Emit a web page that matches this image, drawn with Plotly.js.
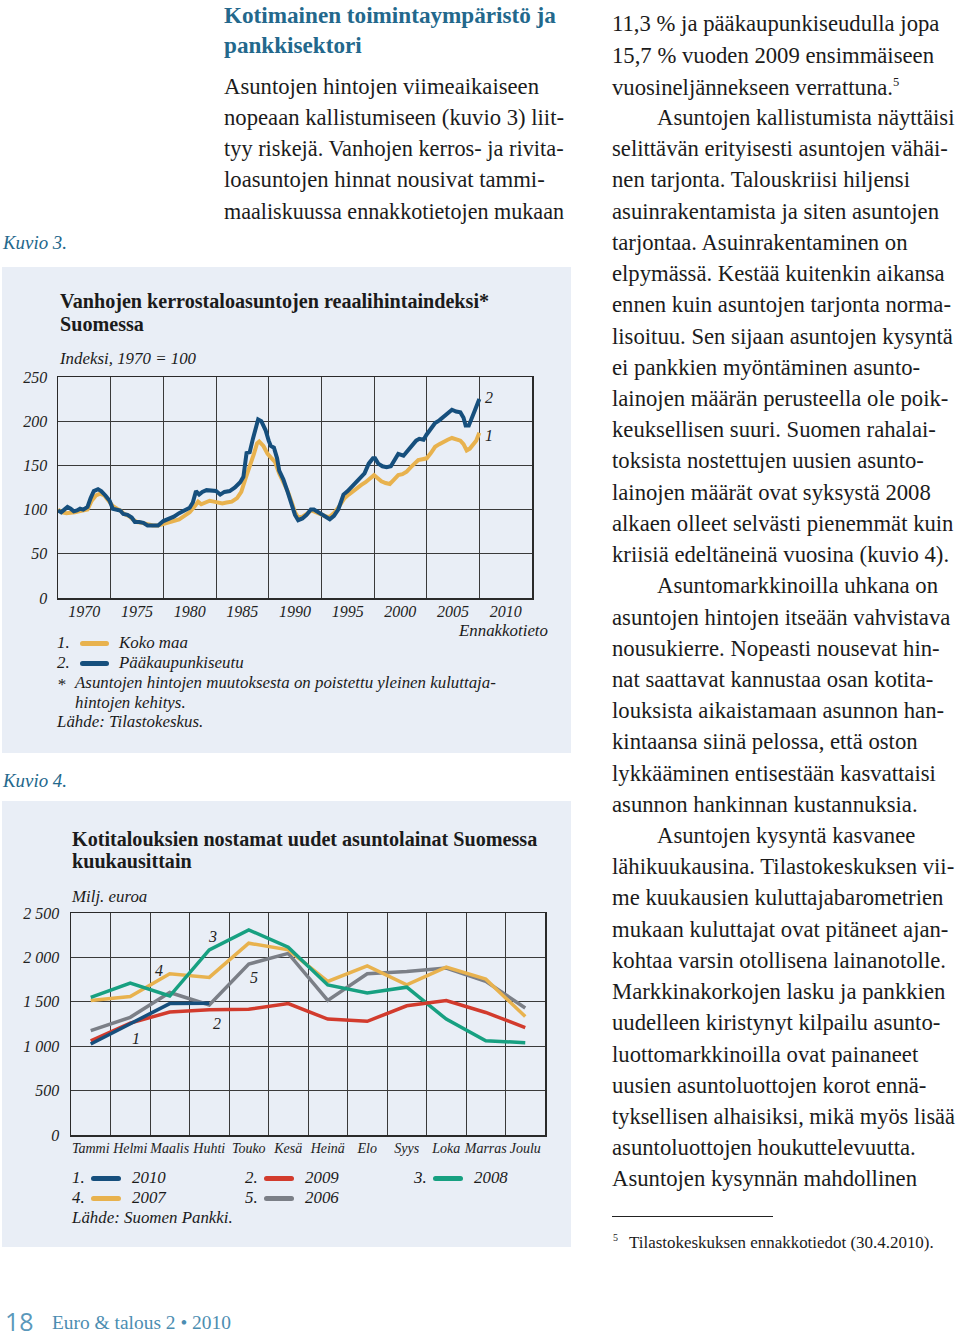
<!DOCTYPE html>
<html><head><meta charset="utf-8">
<script src="https://cdn.plot.ly/plotly-3.0.1.min.js"></script>
<style>
html,body{margin:0;padding:0;background:#fff;}
#page{position:relative;width:960px;height:1337px;overflow:hidden;background:#fff;font-family:'Liberation Serif',serif;color:#1b1b1b;}
.ln{position:absolute;white-space:nowrap;line-height:1;transform-origin:0 50%;}
.panel{position:absolute;background:#e9eef6;}
.sw{position:absolute;height:5px;border-radius:3px;}
.plot{position:absolute;}
</style></head>
<body><div id="page">
<div class="panel" style="left:2px;top:267px;width:569px;height:486px;"></div>
<div class="panel" style="left:2px;top:801px;width:569px;height:446px;"></div>
<div id="c1" class="plot" style="left:0;top:360px;width:570px;height:270px;"></div>
<div id="c2" class="plot" style="left:0;top:895px;width:570px;height:270px;"></div>
</div>
<script>
// ---------- Chart 1 data: real price index of old apartments (1970 = 100) ----------
const yearsKoko = [1970.0,1970.4,1970.8,1971.2,1971.6,1972.0,1972.4,1972.8,1973.2,1973.6,1974.0,1974.4,1974.8,1975.2,1975.6,1975.9,1976.3,1976.7,1977.1,1977.5,1978.0,1978.5,1979.0,1979.5,1980.0,1980.5,1981.0,1981.5,1982.0,1982.5,1983.0,1983.3,1983.6,1984.0,1984.4,1984.8,1985.2,1985.6,1986.0,1986.5,1987.0,1987.4,1987.8,1988.2,1988.6,1988.9,1989.1,1989.5,1989.9,1990.2,1990.6,1991.0,1991.4,1991.8,1992.2,1992.5,1992.8,1993.2,1993.6,1994.0,1994.3,1994.7,1995.1,1995.5,1995.8,1996.2,1996.6,1996.9,1997.2,1997.6,1998.0,1998.4,1998.8,1999.2,1999.6,2000.0,2000.3,2000.7,2001.1,2001.5,2001.9,2002.3,2002.7,2003.1,2003.5,2003.9,2004.2,2004.6,2005.0,2005.4,2005.8,2006.2,2006.6,2007.0,2007.4,2007.8,2008.2,2008.5,2008.8,2009.1,2009.4,2009.7,2010.0];
const kokoMaa = [100,97,96,96,97,98,99,100,110,116,118,116,110,104,101,99,95,93,89,86,85,83,82,82,84,85,87,89,93,97,104,109,106,108,110,109,108,107,108,109,113,120,135,148,163,175,177,172,163,159,154,141,131,121,108,97,91,92,95,99,98,96,94,92,92,96,102,108,113,117,121,124,128,131,135,139,136,132,130,129,134,139,140,143,148,153,156,157,158,164,171,174,177,179,181,180,178,174,167,169,173,178,187];
const yearsPk = [1970.0,1970.3,1970.6,1970.9,1971.2,1971.5,1971.8,1972.1,1972.4,1972.8,1973.1,1973.4,1973.8,1974.1,1974.5,1974.9,1975.2,1975.6,1975.9,1976.2,1976.6,1977.0,1977.3,1977.7,1978.1,1978.5,1979.0,1979.5,1980.0,1980.5,1981.0,1981.5,1982.0,1982.5,1982.8,1983.1,1983.4,1983.7,1984.1,1984.5,1985.0,1985.4,1985.8,1986.3,1986.8,1987.3,1987.6,1987.9,1988.2,1988.5,1988.8,1989.0,1989.3,1989.7,1990.0,1990.2,1990.5,1990.8,1991.0,1991.4,1991.8,1992.2,1992.5,1992.8,1993.2,1993.6,1994.0,1994.3,1994.7,1995.1,1995.5,1995.8,1996.2,1996.6,1996.9,1997.1,1997.5,1997.9,1998.3,1998.7,1999.1,1999.5,1999.9,2000.1,2000.4,2000.8,2001.2,2001.6,2002.0,2002.3,2002.8,2003.2,2003.6,2004.0,2004.3,2004.7,2005.0,2005.4,2005.8,2006.2,2006.6,2007.0,2007.4,2007.8,2008.2,2008.5,2008.7,2009.0,2009.3,2009.6,2010.0];
const paakaupunkiseutu = [99,97,100,103,101,98,99,101,100,103,113,121,123,121,116,110,101,100,99,95,94,91,86,86,85,82,82,82,87,89,92,96,99,102,108,121,117,120,122,122,121,117,120,121,125,131,137,164,165,180,196,202,200,190,178,172,170,158,144,134,120,104,94,88,90,94,100,100,97,94,90,89,93,100,110,117,121,126,132,137,141,152,158,158,152,149,148,149,158,163,161,167,172,178,180,179,185,192,198,201,205,209,213,211,210,204,195,195,203,213,225];
const yearTickLabels = ['1970','1975','1980','1985','1990','1995','2000','2005','2010'];
const indexTicks = [0,50,100,150,200,250];

// ---------- Chart 2 data: new housing loans drawn by households, EUR million ----------
const months = ['Tammi','Helmi','Maalis','Huhti','Touko','Kesä','Heinä','Elo','Syys','Loka','Marras','Joulu'];
const loans2010 = [1025,1255,1480,1485];
const loans2009 = [1060,1260,1385,1410,1415,1480,1305,1280,1455,1515,1380,1210];
const loans2008 = [1550,1710,1565,2085,2310,2115,1690,1600,1665,1305,1060,1040];
const loans2007 = [1515,1560,1815,1775,2160,2085,1730,1905,1690,1890,1755,1335];
const loans2006 = [1175,1325,1605,1465,1925,2045,1515,1815,1840,1880,1730,1430];
const loanTicks = [0,500,1000,1500,2000,2500];
const loanTickText = ['0','500','1 000','1 500','2 000','2 500'];

const ORANGE='#e8b24e', BLUE='#164f7d', RED='#d23b2d', GREEN='#17a081', GRAY='#7b7f87';
const TEAL='#23688c';
const SERIF="'Liberation Serif', 'Times New Roman', serif";

// ---------- text helpers ----------
const page=document.getElementById('page');
const cv=document.createElement('canvas').getContext('2d');
function fit(text, style, weight, target){
  cv.font = style+' '+weight+' 100px '+SERIF;
  return 100*target/cv.measureText(text).width;
}
function measure(text,size,style,weight){
  cv.font = (style||'normal')+' '+(weight||'normal')+' '+size+'px '+SERIF;
  return cv.measureText(text).width;
}
function line(text, x, yc, size, opts){
  opts=opts||{};
  const d=document.createElement('div');
  d.className='ln';
  d.textContent=text;
  d.style.fontSize=size+'px';
  d.style.top=(yc-0.47*size)+'px';
  if(opts.right!==undefined){d.style.right=(960-opts.right)+'px';} else d.style.left=x+'px';
  if(opts.italic) d.style.fontStyle='italic';
  if(opts.bold) d.style.fontWeight='bold';
  if(opts.color) d.style.color=opts.color;
  if(opts.family) d.style.fontFamily=opts.family;
  if(opts.html) d.innerHTML=opts.html;
  if(opts.maxW){
    const w=measure(opts.plain||text,size,opts.italic?'italic':'normal',opts.bold?'bold':'normal');
    if(w>opts.maxW) d.style.transform='scaleX('+(opts.maxW/w)+')';
  }
  page.appendChild(d);
  return d;
}
const bodySize=(fit('Asuntojen hintojen viimeaikaiseen','normal','normal',309)+fit('11,3 % ja pääkaupunkiseudulla jopa','normal','normal',334))/2;
const headSize=fit('Kotimainen toimintaympäristö ja','normal','bold',332);
const titleSize=(fit('Vanhojen kerrostaloasuntojen reaalihintaindeksi*','normal','bold',427)+fit('Kotitalouksien nostamat uudet asuntolainat Suomessa','normal','bold',468))/2;
const noteSize=(fit('Asuntojen hintojen muutoksesta on poistettu yleinen kuluttaja-','italic','normal',425)+fit('Indeksi, 1970 = 100','italic','normal',135))/2;
const kuvioSize=fit('Kuvio 3.','italic','normal',64);

// ---------- left column text ----------
line('Kotimainen toimintaympäristö ja',224,15,headSize,{bold:true,color:TEAL});
line('pankkisektori',224,45,headSize,{bold:true,color:TEAL});
const LH=31.22, Y0=24;
const leftBody=['Asuntojen hintojen viimeaikaiseen','nopeaan kallistumiseen (kuvio 3) liit-','tyy riskejä. Vanhojen kerros- ja rivita-','loasuntojen hinnat nousivat tammi-','maaliskuussa ennakkotietojen mukaan'];
leftBody.forEach((t,i)=>line(t,224,Y0+LH*(i+2),bodySize,{maxW:340}));

// ---------- right column text ----------
const rightBody=[
['11,3 % ja pääkaupunkiseudulla jopa',0],
['15,7 % vuoden 2009 ensimmäiseen',0],
['vuosineljännekseen verrattuna.<sup style="font-size:0.55em;vertical-align:0.7em">5</sup>',0,1],
['Asuntojen kallistumista näyttäisi',1],
['selittävän erityisesti asuntojen vähäi-',0],
['nen tarjonta. Talouskriisi hiljensi',0],
['asuinrakentamista ja siten asuntojen',0],
['tarjontaa. Asuinrakentaminen on',0],
['elpymässä. Kestää kuitenkin aikansa',0],
['ennen kuin asuntojen tarjonta norma-',0],
['lisoituu. Sen sijaan asuntojen kysyntä',0],
['ei pankkien myöntäminen asunto-',0],
['lainojen määrän perusteella ole poik-',0],
['keuksellisen suuri. Suomen rahalai-',0],
['toksista nostettujen uusien asunto-',0],
['lainojen määrät ovat syksystä 2008',0],
['alkaen olleet selvästi pienemmät kuin',0],
['kriisiä edeltäneinä vuosina (kuvio 4).',0],
['Asuntomarkkinoilla uhkana on',1],
['asuntojen hintojen itseään vahvistava',0],
['nousukierre. Nopeasti nousevat hin-',0],
['nat saattavat kannustaa osan kotita-',0],
['louksista aikaistamaan asunnon han-',0],
['kintaansa siinä pelossa, että oston',0],
['lykkääminen entisestään kasvattaisi',0],
['asunnon hankinnan kustannuksia.',0],
['Asuntojen kysyntä kasvanee',1],
['lähikuukausina. Tilastokeskuksen vii-',0],
['me kuukausien kuluttajabarometrien',0],
['mukaan kuluttajat ovat pitäneet ajan-',0],
['kohtaa varsin otollisena lainanotolle.',0],
['Markkinakorkojen lasku ja pankkien',0],
['uudelleen kiristynyt kilpailu asunto-',0],
['luottomarkkinoilla ovat painaneet',0],
['uusien asuntoluottojen korot ennä-',0],
['tyksellisen alhaisiksi, mikä myös lisää',0],
['asuntoluottojen houkuttelevuutta.',0],
['Asuntojen kysynnän mahdollinen',0]];
rightBody.forEach((r,i)=>{
  const x = r[1]? 657 : 612;
  if(r[2]) line('',x,Y0+LH*i,bodySize,{html:r[0]});
  else line(r[0],x,Y0+LH*i,bodySize,{maxW:955-x});
});
// footnote
const rule=document.createElement('div');
rule.style.cssText='position:absolute;left:612px;top:1216px;width:161px;height:1px;background:#222;';
page.appendChild(rule);
line('5',613,1238,10);
line('Tilastokeskuksen ennakkotiedot (30.4.2010).',629,1243,fit('Tilastokeskuksen ennakkotiedot (30.4.2010).','normal','normal',305));

// footer
line('18',5,1321,25,{family:"'Open Sans', sans-serif",color:'#5a98bb'});
line('Euro & talous 2 • 2010',52,1322,fit('Euro & talous 2 • 2010','normal','normal',179),{color:'#4c8db1'});

// ---------- figure captions and chart texts ----------
line('Kuvio 3.',3,243,kuvioSize,{italic:true,color:TEAL});
line('Kuvio 4.',3,781,kuvioSize,{italic:true,color:TEAL});

line('Vanhojen kerrostaloasuntojen reaalihintaindeksi*',60,300,titleSize,{bold:true});
line('Suomessa',60,323,titleSize,{bold:true});
line('Indeksi, 1970 = 100',60,359,noteSize,{italic:true});
line('Ennakkotieto',0,631,noteSize,{italic:true,right:548});
function legendEntry(num,color,label,x,yc,labelX){
  line(num,x,yc,noteSize,{italic:true});
  const s=document.createElement('div'); s.className='sw';
  s.style.left=(x+23)+'px'; s.style.width='29px'; s.style.top=(yc-2.5)+'px'; s.style.background=color;
  page.appendChild(s);
  line(label,labelX,yc,noteSize,{italic:true});
}
legendEntry('1.',ORANGE,'Koko maa',57,643,119);
legendEntry('2.',BLUE,'Pääkaupunkiseutu',57,663,119);
line('*',57,685,noteSize,{italic:true});
line('Asuntojen hintojen muutoksesta on poistettu yleinen kuluttaja-',75,683,noteSize,{italic:true});
line('hintojen kehitys.',75,703,noteSize,{italic:true});
line('Lähde: Tilastokeskus.',57,722,noteSize,{italic:true});

line('Kotitalouksien nostamat uudet asuntolainat Suomessa',72,838,titleSize,{bold:true});
line('kuukausittain',72,860,titleSize,{bold:true});
line('Milj. euroa',72,897,noteSize,{italic:true});
function legendEntry2(num,color,label,x,yc){
  line(num,x,yc,noteSize,{italic:true});
  const s=document.createElement('div'); s.className='sw';
  s.style.left=(x+19)+'px'; s.style.width='30px'; s.style.top=(yc-2.5)+'px'; s.style.background=color;
  page.appendChild(s);
  line(label,x+60,yc,noteSize,{italic:true});
}
legendEntry2('1.',BLUE,'2010',72,1178);
legendEntry2('2.',RED,'2009',245,1178);
legendEntry2('3.',GREEN,'2008',414,1178);
legendEntry2('4.',ORANGE,'2007',72,1198);
legendEntry2('5.',GRAY,'2006',245,1198);
line('Lähde: Suomen Pankki.',72,1218,noteSize,{italic:true});

// ---------- Plotly charts ----------
const tickFont={family:SERIF,size:16,color:'#222',style:'italic'};
const GRID='#3a3a3a';
const cfg={staticPlot:true,displayModeBar:false};

Plotly.newPlot('c1',[
  {x:yearsKoko,y:kokoMaa,type:'scatter',mode:'lines',name:'Koko maa',line:{color:ORANGE,width:4}},
  {x:yearsPk,y:paakaupunkiseutu,type:'scatter',mode:'lines',name:'Pääkaupunkiseutu',line:{color:BLUE,width:4}}
],{
  width:570,height:270,margin:{l:58,r:38,t:17,b:32},
  paper_bgcolor:'rgba(0,0,0,0)',plot_bgcolor:'rgba(0,0,0,0)',showlegend:false,
  xaxis:{range:[1970,2015],tickmode:'array',tickvals:yearTickLabels.map(v=>+v+2.5),ticktext:yearTickLabels,tickangle:0,
    showgrid:false,zeroline:false,showline:true,mirror:true,linecolor:'#2a2a2a',linewidth:1.5,ticks:'',tickfont:tickFont,
    ticklabelstandoff:-2,
    minor:{tickmode:'linear',tick0:1970,dtick:5,showgrid:true,gridcolor:GRID,gridwidth:1,ticks:''}},
  yaxis:{range:[0,250],tickmode:'array',tickvals:indexTicks,showgrid:true,gridcolor:GRID,gridwidth:1,zeroline:false,
    showline:true,mirror:true,linecolor:'#2a2a2a',linewidth:1.5,ticks:'',tickfont:tickFont,ticklabelstandoff:6},
  annotations:[
    {x:2010.9,y:227,text:'2',showarrow:false,font:tickFont},
    {x:2010.9,y:184,text:'1',showarrow:false,font:tickFont}
  ]
},cfg);

Plotly.newPlot('c2',[
  {x:months,y:loans2006,type:'scatter',mode:'lines',name:'2006',line:{color:GRAY,width:3.5}},
  {x:months,y:loans2007,type:'scatter',mode:'lines',name:'2007',line:{color:ORANGE,width:3.5}},
  {x:months,y:loans2008,type:'scatter',mode:'lines',name:'2008',line:{color:GREEN,width:3.5}},
  {x:months,y:loans2009,type:'scatter',mode:'lines',name:'2009',line:{color:RED,width:3.5}},
  {x:months.slice(0,loans2010.length),y:loans2010,type:'scatter',mode:'lines',name:'2010',line:{color:BLUE,width:3.5}}
],{
  width:570,height:270,margin:{l:71,r:25,t:18,b:30},
  paper_bgcolor:'rgba(0,0,0,0)',plot_bgcolor:'rgba(0,0,0,0)',showlegend:false,
  xaxis:{type:'category',categoryorder:'array',categoryarray:months,range:[-0.5,11.5],tickson:'boundaries',tickangle:0,
    showgrid:true,gridcolor:GRID,gridwidth:1,zeroline:false,showline:true,mirror:true,linecolor:'#2a2a2a',linewidth:1.5,
    ticks:'',tickfont:{family:SERIF,size:14,color:'#222',style:'italic'}},
  yaxis:{range:[0,2500],tickmode:'array',tickvals:loanTicks,ticktext:loanTickText,showgrid:true,gridcolor:GRID,gridwidth:1,
    zeroline:false,showline:true,mirror:true,linecolor:'#2a2a2a',linewidth:1.5,ticks:'',tickfont:tickFont,ticklabelstandoff:7},
  annotations:[
    {x:1.14,y:1092,text:'1',showarrow:false,font:tickFont},
    {x:3.2,y:1261,text:'2',showarrow:false,font:tickFont},
    {x:3.09,y:2230,text:'3',showarrow:false,font:tickFont},
    {x:1.72,y:1858,text:'4',showarrow:false,font:tickFont},
    {x:4.13,y:1779,text:'5',showarrow:false,font:tickFont}
  ]
},cfg);
</script>
</body></html>
